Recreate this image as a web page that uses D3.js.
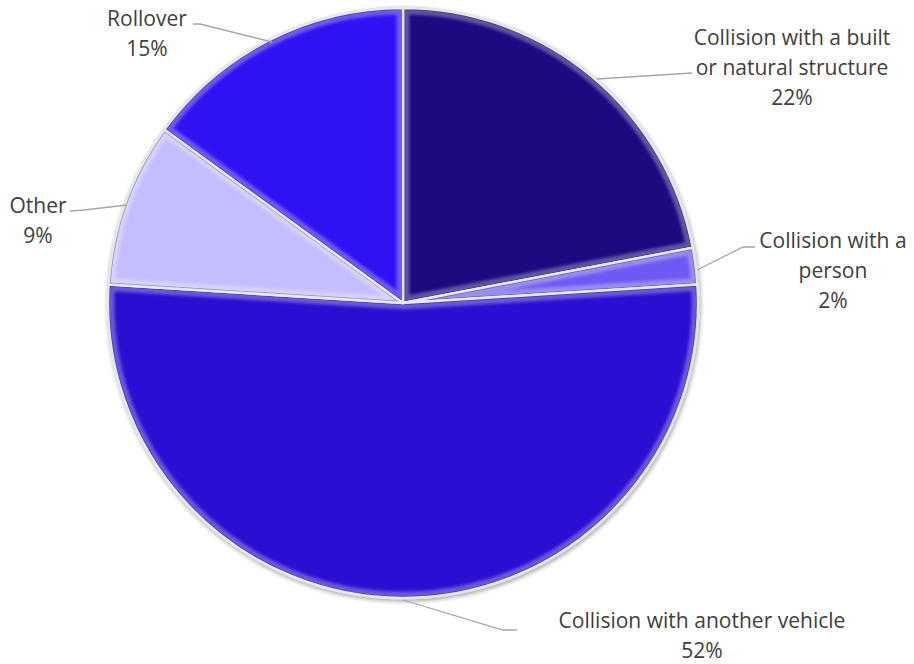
<!DOCTYPE html>
<html>
<head>
<meta charset="utf-8">
<script src="https://cdn.jsdelivr.net/npm/d3@7"></script>
<style>
  body { margin: 0; background: #fff; }
  svg { display: block; }
</style>
</head>
<body>
<svg width="914" height="664"></svg>
<script>
// slice data, clockwise from 12 o'clock
const categories = ["Collision with a built or natural structure", "Collision with a person",
                    "Collision with another vehicle", "Other", "Rollover"];
const shares = [22, 2, 52, 9, 15];
const labelLines = [
  ["Collision with a built", "or natural structure", "22%"],
  ["Collision with a", "person", "2%"],
  ["Collision with another vehicle", "52%"],
  ["Other", "9%"],
  ["Rollover", "15%"]
];
const colors = ["#1b0a80", "#6c5af4", "#2a0ed2", "#c4bdff", "#2f12f4"];

const svg = d3.select("svg");
const cx = 403, cy = 303, R = 295;

const defs = svg.append("defs");
defs.append("filter").attr("id", "shadow").attr("x", "-10%").attr("y", "-10%")
  .attr("width", "120%").attr("height", "120%")
  .html('<feGaussianBlur in="SourceAlpha" stdDeviation="2"/><feOffset dx="1" dy="2" result="b"/>' +
        '<feFlood flood-color="#000" flood-opacity="0.35"/><feComposite in2="b" operator="in"/>' +
        '<feMerge><feMergeNode/><feMergeNode in="SourceGraphic"/></feMerge>');
defs.append("filter").attr("id", "soft").html('<feGaussianBlur stdDeviation="1.8"/>');

const pie = d3.pie().sort(null).value(d => d);
const arcs = pie(shares);
const arc = d3.arc().innerRadius(0).outerRadius(R);

const g = svg.append("g").attr("transform", `translate(${cx},${cy})`);

// light outer ring
g.append("circle").attr("r", R + 1.5).attr("fill", "#cfcfcf").attr("filter", "url(#shadow)");

const slices = g.selectAll("g.slice").data(arcs).join("g").attr("class", "slice");

slices.each(function(d, i) {
  defs.append("clipPath").attr("id", "clip" + i).append("path").attr("d", arc(d));
});

slices.append("path")
  .attr("d", arc)
  .attr("fill", (d, i) => colors[i]);

// bevel: light band inside the edges, then a darker rim
slices.append("path")
  .attr("d", arc)
  .attr("clip-path", (d, i) => `url(#clip${i})`)
  .attr("fill", "none")
  .attr("stroke", "#ffffff")
  .attr("stroke-opacity", 0.3)
  .attr("stroke-width", 13)
  .attr("filter", "url(#soft)");
slices.append("path")
  .attr("d", arc)
  .attr("clip-path", (d, i) => `url(#clip${i})`)
  .attr("fill", "none")
  .attr("stroke", "#000")
  .attr("stroke-opacity", 0.3)
  .attr("stroke-width", 4);

slices.append("path")
  .attr("d", arc)
  .attr("fill", "none")
  .attr("stroke", "#e8e8e8")
  .attr("stroke-width", 2.5)
  .attr("stroke-linejoin", "round");

// labels
const font = "Open Sans";
const labelPos = [[792, 37], [833, 240], [702, 620], [38, 205], [147, 18]];
const leaders = [
  [[597, 79], [692, 73]],
  [[697, 270], [743, 247], [755, 247]],
  [[403, 600], [503, 630], [517, 630]],
  [[127, 205], [84, 210], [70, 211]],
  [[272, 42], [200, 24], [193, 24]]
];

// fit font size so the longest line matches the reference width
const probe = svg.append("text").attr("font-family", font).attr("font-size", 20)
  .text("Collision with another vehicle");
const fs = 20 * 287 / probe.node().getComputedTextLength();
probe.remove();

const line = d3.line();
svg.append("g").selectAll("path").data(leaders).join("path")
  .attr("d", line)
  .attr("fill", "none")
  .attr("stroke", "#a6a6a6")
  .attr("stroke-width", 1.3);

const lab = svg.append("g").selectAll("text").data(labelLines).join("text")
  .attr("font-family", font)
  .attr("font-size", fs)
  .attr("fill", "#404040")
  .attr("text-anchor", "middle")
  .attr("dominant-baseline", "central");

lab.each(function(lines, i) {
  const t = d3.select(this);
  lines.forEach((s, k) => {
    t.append("tspan")
      .attr("x", labelPos[i][0])
      .attr("y", labelPos[i][1] + k * 30)
      .text(s);
  });
});
</script>
</body>
</html>
